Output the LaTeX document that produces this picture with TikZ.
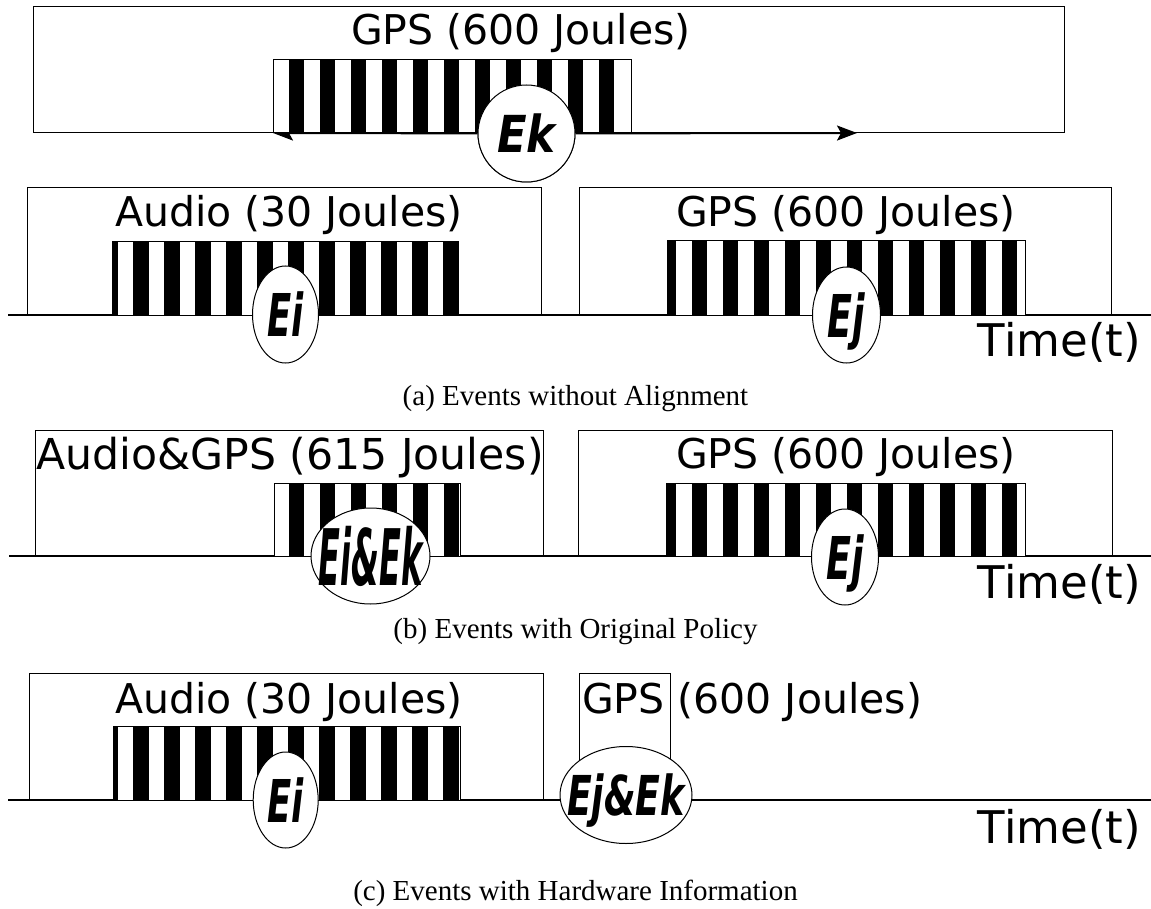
\documentclass[tikz,border=0pt]{standalone}
\usepackage{fontspec}
\usepackage{graphicx}
\usepackage{tikz}
\usetikzlibrary{arrows.meta,positioning,shapes.geometric}
\newfontfamily\labfont{DejaVu Sans}
\newfontfamily\capfont{Liberation Serif}
\newcommand{\ev}[3]{\scalebox{#2}[1]{\fontsize{#1}{#1}\selectfont\labfont\bfseries\itshape #3}}

\begin{document}
\begin{tikzpicture}[
  x=1pt, y=-1pt,
  box/.style={draw, line width=1pt},
  band/.style={draw, line width=1pt},
  axis/.style={line width=2pt},
  evt/.style={ellipse, draw, fill=white, line width=1pt, inner sep=0pt},
  lbl/.style={font=\labfont\fontsize{41}{41}\selectfont, inner sep=0pt, anchor=base},
  tlbl/.style={font=\labfont\fontsize{45}{45}\selectfont, inner sep=0pt, anchor=base east},
  captxt/.style={font=\capfont\fontsize{29}{29}\selectfont, inner sep=0pt, anchor=base},
  arr/.style={line width=2pt, -{Stealth[length=20pt,width=15pt,inset=4pt]}}
]
  \useasboundingbox (0,0) rectangle (1151,909);

  % boxes
  \draw[box] (33,7) rectangle (1064,133);
  \draw[box] (27,188) rectangle (541,315);
  \draw[box] (579,188) rectangle (1111,315);
  \draw[box] (35,430) rectangle (543,556);
  \draw[box] (578,430) rectangle (1112,556);
  \draw[box] (29,673) rectangle (543,800);
  \draw[box] (579,673) rectangle (670,800);

  % time lines
  \draw[axis] (8,315) -- (1151,315);
  \draw[axis] (9,556) -- (1151,556);
  \draw[axis] (8,800) -- (1151,800);

  % arrows of Ek (partly under the band)
  \node[evt, minimum width=97pt, minimum height=97pt] (ek) at (526.5,133.5) {};
  \coordinate (ekl) at (273,133);
  \coordinate (ekr) at (857,133);
  \draw[arr] (ek) -- (ekl);
  \draw[arr] (ek) -- (ekr);

  % striped bands: left/top/right/bottom/phase/count
  \foreach \xa/\ya/\xb/\yb/\ph/\n in {273/60/631/133/288.5/10, 112/242/458/315/102/11,
      667/241/1025/315/660.7/11, 274/483/460/556/288.5/5, 666/483/1025/556/660.7/11,
      113/726/460/800/102/11} {
    \begin{scope}
      \fill[white] (\xa,\ya) rectangle (\xb,\yb);
      \clip (\xa,\ya) rectangle (\xb,\yb);
      \foreach \k in {0,...,\n}
        \fill (\ph+31*\k,\ya) rectangle ++(15.5,\yb-\ya);
    \end{scope}
    \draw[band] (\xa,\ya) rectangle (\xb,\yb);
  }

  % events
  \node[evt, minimum width=97pt, minimum height=97pt] (ek) at (526.5,133.5) {};
  \node[inner sep=0pt, text depth=0pt] (ektxt) at (ek.center) {\ev{51}{0.85}{Ek}};

  \node[evt, minimum width=66pt, minimum height=97pt] (ei) at (285.5,314.5) {};
  \node[inner sep=0pt, text depth=0pt] (eitxt) at (ei.center) {\ev{59}{0.6}{Ei}};
  \node[evt, minimum width=68pt, minimum height=96pt] (ej) at (846.5,315) {};
  \node[inner sep=0pt, text depth=0pt] (ejtxt) at (ej.center) {\ev{59}{0.62}{Ej}};

  \node[evt, minimum width=119pt, minimum height=96pt] (eiek) at (370.5,556) {};
  \node[inner sep=0pt, text depth=0pt] (eiektxt) at (eiek.center) {\ev{78}{0.41}{Ei\&Ek}};
  \node[evt, minimum width=67pt, minimum height=96pt] (ejb) at (845,557) {};
  \node[inner sep=0pt, text depth=0pt] (ejbtxt) at (ejb.center) {\ev{59}{0.62}{Ej}};

  \node[evt, minimum width=65pt, minimum height=96pt] (eic) at (285.7,800) {};
  \node[inner sep=0pt, text depth=0pt] (eictxt) at (eic.center) {\ev{59}{0.6}{Ei}};
  \node[evt, minimum width=132pt, minimum height=97pt] (ejek) at (626,795) {};
  \node[inner sep=0pt, text depth=0pt] (ejektxt) at (ejek.center) {\ev{55}{0.66}{Ej\&Ek}};

  % labels
  \node[lbl] (gpstop) at (521,45) {GPS (600 Joules)};
  \node[lbl] (audioa) at (289,227) {Audio (30 Joules)};
  \node[lbl] (gpsa) at (846,227) {GPS (600 Joules)};
  \node[lbl, anchor=base west, font=\labfont\fontsize{42.6}{42.6}\selectfont] (mixb) at (36,469) {Audio\&GPS (615 Joules)};
  \node[lbl] (gpsb) at (846,468) {GPS (600 Joules)};
  \node[lbl] (audioc) at (289,713) {Audio (30 Joules)};
  \node[lbl, anchor=base west] (gpsc) at (582,713) {GPS (600 Joules)};

  \node[tlbl] (timea) at (1141,356) {Time(t)};
  \node[tlbl] (timeb) at (1141,598) {Time(t)};
  \node[tlbl] (timec) at (1141,843) {Time(t)};

  \node[captxt] (capa) at (575.5,405) {(a) Events without Alignment};
  \node[captxt] (capb) at (575.5,638) {(b) Events with Original Policy};
  \node[captxt] (capc) at (575.5,900) {(c) Events with Hardware Information};
\end{tikzpicture}
\end{document}
